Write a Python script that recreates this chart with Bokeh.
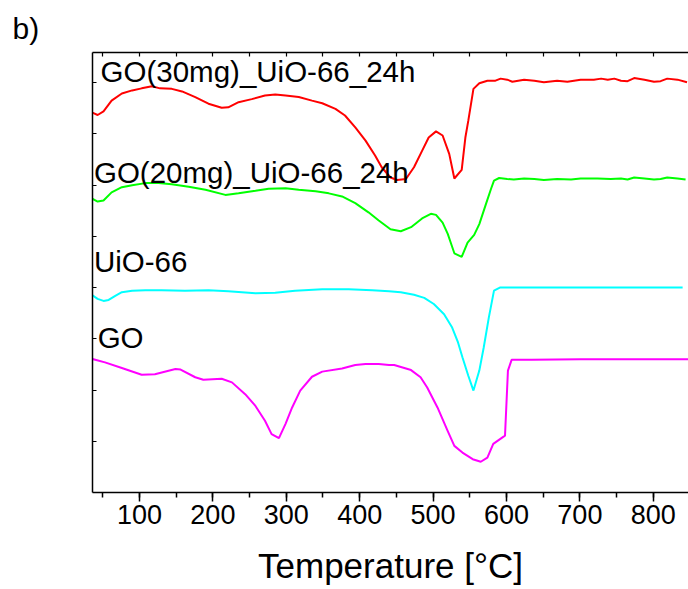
from bokeh.plotting import figure
from bokeh.models import LinearAxis, FixedTicker, Range1d, Label, Title
from bokeh.embed import file_html
from bokeh.resources import INLINE

# ---- data ----
red_T = [35, 43, 51, 62, 76, 90, 103, 117, 128, 144, 158, 176, 194, 212, 221, 235, 253, 271, 285, 299,
         317, 335, 349, 367, 380, 394, 408, 421, 430, 442, 451, 463, 474, 485, 494, 504, 513, 522, 529, 539,
         544, 548, 555, 563, 574, 585, 592, 601, 608, 624, 638, 651, 669, 683, 701, 719, 729, 738, 747, 756,
         765, 774, 788, 801, 810, 819, 833, 846]
red_V = [7.42, 7.37, 7.44, 7.65, 7.79, 7.85, 7.89, 7.93, 7.89, 7.88, 7.83, 7.72, 7.59, 7.51, 7.52, 7.62, 7.68, 7.75, 7.77, 7.75,
         7.72, 7.65, 7.60, 7.49, 7.36, 7.13, 6.87, 6.58, 6.35, 6.15, 6.10, 6.12, 6.35, 6.67, 6.93, 7.05, 6.97, 6.61, 6.13, 6.30,
         6.93, 7.26, 7.88, 7.99, 8.04, 8.04, 8.08, 8.06, 8.02, 8.06, 8.04, 8.01, 8.04, 8.02, 8.06, 8.06, 8.08, 8.06, 8.08, 8.04,
         8.03, 8.09, 8.06, 8.02, 8.03, 8.08, 8.06, 8.01]

green_T = [35, 43, 51, 62, 76, 90, 108, 126, 144, 167, 190, 217, 235, 258, 276, 299, 317, 340, 358, 376,
           394, 412, 426, 442, 456, 470, 485, 497, 504, 513, 520, 524, 529, 539, 547, 556, 563, 572, 579, 583,
           590, 601, 610, 624, 638, 651, 669, 688, 701, 724, 742, 756, 765, 774, 788, 801, 810, 819, 833, 844]
green_V = [5.74, 5.68, 5.70, 5.86, 5.96, 6.00, 6.04, 6.04, 6.02, 5.97, 5.91, 5.81, 5.84, 5.89, 5.93, 5.94, 5.91, 5.88, 5.84, 5.78,
           5.65, 5.47, 5.31, 5.14, 5.10, 5.18, 5.35, 5.44, 5.42, 5.27, 5.05, 4.88, 4.67, 4.60, 4.88, 5.03, 5.24, 5.63, 5.93, 6.09,
           6.14, 6.12, 6.11, 6.13, 6.12, 6.10, 6.12, 6.11, 6.13, 6.13, 6.12, 6.13, 6.11, 6.15, 6.13, 6.11, 6.12, 6.15, 6.13, 6.11]

cyan_T = [35, 43, 51, 58, 67, 76, 90, 108, 130, 162, 194, 221, 258, 285, 312, 349, 385, 417, 440, 456,
          474, 488, 501, 515, 526, 534, 540, 548, 555, 563, 569, 576, 583, 591, 610, 656, 701, 747, 792, 840]
cyan_V = [3.86, 3.78, 3.74, 3.76, 3.84, 3.91, 3.94, 3.95, 3.95, 3.94, 3.95, 3.93, 3.89, 3.90, 3.94, 3.97, 3.97, 3.95, 3.93, 3.91,
          3.86, 3.80, 3.68, 3.48, 3.22, 2.93, 2.64, 2.28, 1.99, 2.38, 2.83, 3.42, 3.94, 4.00, 4.00, 4.00, 4.00, 4.00, 4.00, 4.00]

mag_T = [35, 53, 76, 103, 121, 149, 156, 176, 187, 212, 226, 244, 258, 271, 280, 290, 299, 308, 319, 335,
         349, 376, 394, 408, 426, 440, 447, 470, 483, 492, 506, 520, 529, 540, 554, 565, 574, 582, 598, 602,
         607, 634, 701, 747, 792, 849]
mag_V = [2.61, 2.54, 2.43, 2.30, 2.31, 2.41, 2.40, 2.25, 2.20, 2.22, 2.15, 1.92, 1.69, 1.40, 1.14, 1.06, 1.34, 1.66, 1.99, 2.26,
         2.36, 2.42, 2.49, 2.51, 2.51, 2.49, 2.49, 2.39, 2.25, 2.05, 1.66, 1.20, 0.91, 0.78, 0.65, 0.60, 0.68, 0.95, 1.11, 2.38,
         2.59, 2.59, 2.60, 2.60, 2.60, 2.60]

series_names = ["GO(30mg)_UiO-66_24h", "GO(20mg)_UiO-66_24h", "UiO-66", "GO"]
label_T = [47, 38, 38, 43]
label_V = [8.21, 6.25, 4.50, 3.03]

x_ticks = [100, 200, 300, 400, 500, 600, 700, 800]
x_minor = [50, 100, 150, 200, 250, 300, 350, 400, 450, 500, 550, 600, 650, 700, 750, 800, 850]
y_ticks = [1, 2, 3, 4, 5, 6, 7, 8]

FONT = "Liberation Sans"

p = figure(width=688, height=589, x_range=Range1d(36, 848), y_range=Range1d(0, 8.59),
           output_backend="svg", toolbar_location=None,
           x_axis_location=None, y_axis_location=None,
           min_border_left=92, min_border_right=0, min_border_top=52, min_border_bottom=97)
p.outline_line_color = None
p.grid.visible = False
p.background_fill_color = "white"
p.border_fill_color = "white"

# panel letter as title
p.title = Title(text="b)", align="left", offset=-80, text_font=FONT, text_font_size="30px",
                text_font_style="normal", text_color="black", standoff=15)

# bottom axis
xb = LinearAxis(ticker=FixedTicker(ticks=x_ticks, minor_ticks=x_minor),
                axis_label="Temperature [°C]")
xb.major_tick_in = 0
xb.major_tick_out = 9
xb.minor_tick_in = 0
xb.minor_tick_out = 5
xb.axis_line_width = 1.5
xb.major_tick_line_width = 1.5
xb.minor_tick_line_width = 1.5
xb.axis_line_color = "black"
xb.major_tick_line_color = "black"
xb.minor_tick_line_color = "black"
xb.major_label_text_font = FONT
xb.major_label_text_font_size = "27px"
xb.major_label_text_color = "black"
xb.major_label_standoff = 3
xb.axis_label_text_font = FONT
xb.axis_label_text_font_size = "35px"
xb.axis_label_text_font_style = "normal"
xb.axis_label_text_color = "black"
xb.axis_label_standoff = 19
p.add_layout(xb, "below")

# top axis (frame line with inward ticks)
xt = LinearAxis(ticker=FixedTicker(ticks=x_minor, minor_ticks=[]))
xt.major_tick_in = 4
xt.major_tick_out = 0
xt.minor_tick_in = 0
xt.minor_tick_out = 0
xt.axis_line_width = 1.5
xt.major_tick_line_width = 1.2
xt.axis_line_color = "black"
xt.major_tick_line_color = "black"
xt.major_label_overrides = {t: "" for t in x_minor}
xt.major_label_text_font_size = "1px"
xt.major_label_standoff = 0
p.add_layout(xt, "above")

# left axis (no labels, inward ticks)
yl = LinearAxis(ticker=FixedTicker(ticks=y_ticks, minor_ticks=[]))
yl.major_tick_in = 4
yl.major_tick_out = 0
yl.minor_tick_in = 0
yl.minor_tick_out = 0
yl.axis_line_width = 1.5
yl.major_tick_line_width = 1.2
yl.axis_line_color = "black"
yl.major_tick_line_color = "black"
yl.major_label_overrides = {t: "" for t in y_ticks}
yl.major_label_text_font_size = "1px"
yl.major_label_standoff = 0
p.add_layout(yl, "left")

# curves
p.line(red_T, red_V, line_color="#FF0000", line_width=2)
p.line(green_T, green_V, line_color="#00FF00", line_width=2)
p.line(cyan_T, cyan_V, line_color="#00FFFF", line_width=2)
p.line(mag_T, mag_V, line_color="#FF00FF", line_width=2)

# curve labels
for name, tx, ty in zip(series_names, label_T, label_V):
    p.add_layout(Label(x=tx, y=ty, text=name, text_font=FONT, text_font_size="29.5px",
                       text_color="black", text_align="left", text_baseline="alphabetic"))

open("out.html", "w").write(file_html(p, INLINE))
